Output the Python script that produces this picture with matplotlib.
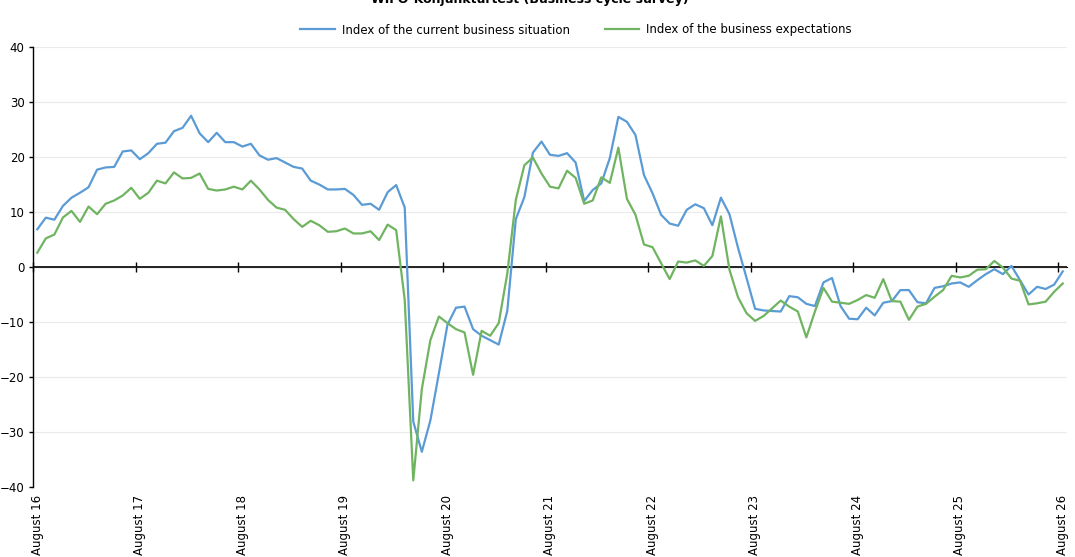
import matplotlib
matplotlib.use("Agg")
import matplotlib.pyplot as plt
import matplotlib.transforms as mtransforms
import numpy as np

# Monthly values, August 2016 to August 2026
current_situation = [
    6.85, 8.97, 8.6, 11.1, 12.6, 13.5, 14.5, 17.7, 18.1, 18.2, 21.0, 21.2,
    19.6, 20.7, 22.4, 22.6, 24.7, 25.3, 27.5, 24.3, 22.7, 24.4,
    22.7, 22.7, 21.9, 22.4, 20.3, 19.5, 19.8, 19.0, 18.2, 17.9, 15.7, 15.0,
    14.1, 14.1, 14.2, 13.1, 11.3, 11.5, 10.4, 13.6, 14.9,
    10.8, -28.1, -33.6, -27.9, -19.3, -10.5, -7.4, -7.2, -11.3, -12.5, -13.3,
    -14.1, -8.0, 8.7, 12.7, 20.8, 22.8, 20.4,
    20.2, 20.7, 19.0, 12.0, 14.0, 15.2, 19.8, 27.3, 26.4, 24.0, 16.7, 13.4,
    9.5, 7.9, 7.5, 10.4, 11.4, 10.7, 7.6, 12.6, 9.6, 3.5, -2.0,
    -7.6, -7.9, -8.0, -8.1, -5.3, -5.5, -6.7, -7.1, -2.8, -2.0, -7.1, -9.4,
    -9.5, -7.4, -8.8, -6.5, -6.2,
    -4.2, -4.2, -6.4, -6.6, -3.8, -3.5, -3.0, -2.8, -3.6, -2.4, -1.3, -0.4,
    -1.3, 0.2, -2.4, -5.0, -3.6, -4.0, -3.2, -0.8,
]
expectations = [
    2.6, 5.2, 5.9, 9.0, 10.2, 8.2, 11.0, 9.6, 11.5, 12.1, 13.0, 14.4,
    12.4, 13.5, 15.7, 15.2, 17.2, 16.1, 16.2, 17.0, 14.2, 13.9,
    14.1, 14.6, 14.1, 15.7, 14.1, 12.2, 10.8, 10.4, 8.7, 7.3, 8.4, 7.6,
    6.4, 6.5, 7.0, 6.1, 6.1, 6.5, 4.9, 7.7, 6.7,
    -6.0, -38.8, -22.2, -13.3, -9.0, -10.2, -11.3, -11.9, -19.6, -11.6, -12.5,
    -10.2, -1.2, 12.2, 18.5, 19.9, 17.0, 14.6,
    14.3, 17.5, 16.2, 11.5, 12.1, 16.3, 15.3, 21.7, 12.4, 9.5, 4.1, 3.6,
    0.7, -2.2, 1.0, 0.8, 1.2, 0.2, 2.0, 9.2, -0.5, -5.5, -8.4,
    -9.8, -8.9, -7.5, -6.1, -7.2, -8.1, -12.8, -8.1, -3.8, -6.3, -6.5, -6.7,
    -6.0, -5.1, -5.6, -2.2, -6.2,
    -6.3, -9.6, -7.2, -6.7, -5.4, -4.2, -1.6, -1.9, -1.6, -0.5, -0.4, 1.1,
    -0.1, -2.1, -2.5, -6.8, -6.6, -6.3, -4.5, -3.0,
]
tick_labels = ["August %d" % y for y in range(16, 27)]

blue = "#5b9bd5"
green = "#70b461"

fig = plt.figure(figsize=(10.75, 5.57), dpi=100)
ax = fig.add_axes([33 / 1075, 1 - 487 / 557, 1034 / 1075, 440 / 557])

x = np.arange(len(current_situation)) + 0.5
ax.plot(x, current_situation, color=blue, lw=1.6, zorder=3,
        label="Index of the current business situation")
ax.plot(x, expectations, color=green, lw=1.6, zorder=3,
        label="Index of the business expectations")
ax.axhline(0, color="black", lw=1.2, zorder=2)

ax.set_xlim(0, len(current_situation))
ax.set_ylim(-40, 40)
ax.set_yticks(range(-40, 41, 10))
ax.grid(axis="y", color="#ebebeb", lw=0.8)
ax.set_axisbelow(True)

for side in ["top", "right", "bottom"]:
    ax.spines[side].set_visible(False)
ax.spines["left"].set_color("black")
ax.spines["left"].set_linewidth(1.0)
ax.tick_params(axis="y", direction="out", length=3, width=1.0,
               labelsize=8.5, pad=3, colors="black")

# category labels at the bottom, tick marks on the zero line
ax.set_xticks(np.arange(0, len(current_situation), 12))
ax.set_xticklabels(tick_labels, rotation=90, fontsize=8.5)
ax.tick_params(axis="x", length=0, pad=6)
shift = mtransforms.ScaledTranslation(4 / 100, 0, fig.dpi_scale_trans)
for lab in ax.get_xticklabels():
    lab.set_transform(lab.get_transform() + shift)

zero_axis = ax.secondary_xaxis(0.5)
zero_axis.set_xticks(np.arange(0, len(current_situation), 12))
zero_axis.tick_params(axis="x", direction="inout", length=7, width=1.0,
                      color="black", labelbottom=False, labeltop=False)

fig.legend(loc="center", bbox_to_anchor=(0.536, 1 - 30 / 557), ncol=2,
           frameon=False, fontsize=8.5, handlelength=2.9,
           columnspacing=3.0, handletextpad=0.6)

fig.text(0.493, 1 - 3 / 557, "WIFO-Konjunkturtest (Business cycle survey)",
         ha="center", va="baseline", fontsize=9, fontweight="bold")

fig.savefig("out.png", dpi=100)
